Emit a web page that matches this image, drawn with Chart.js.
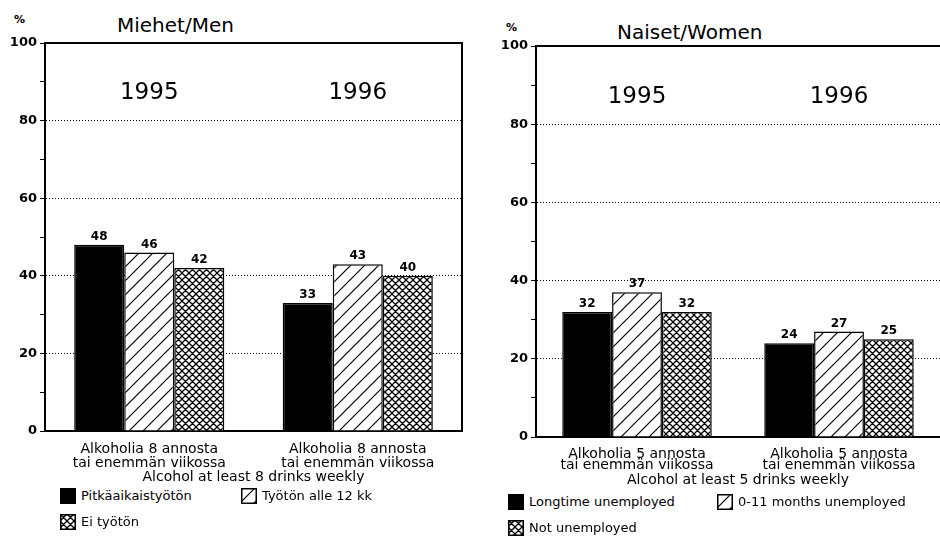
<!DOCTYPE html>
<html>
<head>
<meta charset="utf-8">
<script src="https://cdn.jsdelivr.net/npm/chart.js@4/dist/chart.umd.min.js"></script>
<style>
  body { margin: 0; width: 940px; height: 537px; overflow: hidden; position: relative; background: #fff; color: #000; font-family: "DejaVu Sans", sans-serif; }
  canvas.chart { position: absolute; top: 0; }
  .ttl { position: absolute; font-size: 20px; line-height: 20px; white-space: nowrap; }
  .pct { position: absolute; font-size: 11px; line-height: 11px; font-weight: bold; }
  .legend { position: absolute; display: grid; row-gap: 10px; font-size: 13px; line-height: 16px; }
  .item { display: flex; align-items: center; white-space: nowrap; }
  .item canvas { margin-right: 5px; }
</style>
</head>
<body>
<div class="pct" style="left:14px;top:14px">%</div>
<div class="ttl" style="left:117px;top:15px">Miehet/Men</div>
<div class="pct" style="left:506px;top:22px">%</div>
<div class="ttl" style="left:617px;top:22px">Naiset/Women</div>

<canvas id="men" class="chart" width="470" height="488" style="left:0"></canvas>
<canvas id="women" class="chart" width="470" height="493" style="left:470px"></canvas>

<div id="legendMen" class="legend" style="left:60px;top:488px;grid-template-columns:181px auto"></div>
<div id="legendWomen" class="legend" style="left:508px;top:494px;grid-template-columns:209px auto"></div>

<script>
// data
const years = ['1995', '1996'];
const menCategories = [['Alkoholia 8 annosta', 'tai enemmän viikossa'], ['Alkoholia 8 annosta', 'tai enemmän viikossa']];
const womenCategories = [['Alkoholia 5 annosta', 'tai enemmän viikossa'], ['Alkoholia 5 annosta', 'tai enemmän viikossa']];
const menAxisTitle = 'Alcohol at least 8 drinks weekly';
const womenAxisTitle = 'Alcohol at least 5 drinks weekly';

const menLongtime = [48, 33];
const menShort = [46, 43];
const menNot = [42, 40];
const womenLongtime = [32, 24];
const womenShort = [37, 27];
const womenNot = [32, 25];

const namesFi = ['Pitkäaikaistyötön', 'Työtön alle 12 kk', 'Ei työtön'];
const namesEn = ['Longtime unemployed', '0-11 months unemployed', 'Not unemployed'];

// hatch fills
function makePattern(kind) {
  const s = kind === 'cross' ? 7 : 14;
  const c = document.createElement('canvas');
  c.width = s; c.height = s;
  const g = c.getContext('2d');
  g.fillStyle = '#fff';
  g.fillRect(0, 0, s, s);
  g.strokeStyle = '#000';
  g.lineWidth = kind === 'cross' ? 1.3 : 1.2;
  g.beginPath();
  g.moveTo(-1, s + 1); g.lineTo(s + 1, -1);
  g.moveTo(-1, 1); g.lineTo(1, -1);
  g.moveTo(s - 1, s + 1); g.lineTo(s + 1, s - 1);
  if (kind === 'cross') {
    g.moveTo(-1, -1); g.lineTo(s + 1, s + 1);
    g.moveTo(s - 1, -1); g.lineTo(s + 1, 1);
    g.moveTo(-1, s - 1); g.lineTo(1, s + 1);
  }
  g.stroke();
  return g.createPattern(c, 'repeat');
}
const fills = ['#000', makePattern('slash'), makePattern('cross')];

const FONT = '"DejaVu Sans", sans-serif';

const decorations = {
  id: 'decorations',
  afterDatasetsDraw(chart, args, opts) {
    const { ctx, chartArea: a, scales: { x, y } } = chart;
    ctx.save();
    ctx.fillStyle = '#000';
    ctx.textAlign = 'center';
    ctx.textBaseline = 'bottom';
    ctx.font = 'bold 12px ' + FONT;
    chart.data.datasets.forEach((ds, i) => {
      chart.getDatasetMeta(i).data.forEach((bar, j) => {
        ctx.fillText(ds.data[j], bar.x, bar.y - 2);
      });
    });
    ctx.font = '23px ' + FONT;
    ctx.textBaseline = 'middle';
    years.forEach((yr, j) => {
      ctx.fillText(yr, x.getPixelForValue(j), y.getPixelForValue(opts.yearAt));
    });
    ctx.strokeStyle = '#000';
    ctx.lineWidth = 2;
    ctx.beginPath();
    ctx.moveTo(a.left, a.top);
    ctx.lineTo(a.right, a.top);
    if (opts.rightEdge) ctx.lineTo(a.right, a.bottom);
    ctx.stroke();
    ctx.restore();
  }
};

function buildChart(id, cfg) {
  return new Chart(document.getElementById(id), {
    type: 'bar',
    data: {
      labels: cfg.categories,
      datasets: cfg.series.map((vals, i) => ({
        label: cfg.names[i],
        data: vals,
        backgroundColor: fills[i],
        borderColor: '#000',
        borderWidth: 1.5,
        borderSkipped: 'bottom',
        barPercentage: 1,
        categoryPercentage: cfg.catPct,
      })),
    },
    options: {
      responsive: false,
      animation: false,
      devicePixelRatio: 1,
      layout: { padding: cfg.padding },
      plugins: {
        legend: { display: false },
        tooltip: { enabled: false },
        decorations: { yearAt: 87, rightEdge: cfg.rightEdge },
      },
      scales: {
        x: {
          grid: { display: false },
          border: { color: '#000', width: 2 },
          ticks: { color: '#000', padding: cfg.tickPad, font: { family: FONT, size: 14, lineHeight: cfg.lineH } },
          title: { display: true, text: cfg.axisTitle, color: '#000', padding: 0, font: { family: FONT, size: 14 } },
          afterFit(scale) { scale.height = cfg.xHeight; },
        },
        y: {
          min: 0,
          max: 100,
          ticks: {
            stepSize: 10,
            color: '#000',
            padding: 3,
            font: { family: FONT, size: 13, weight: 'bold' },
            callback: v => (v % 20 === 0 ? v : ''),
          },
          grid: {
            color: c => (c.tick && c.tick.value % 20 === 0 && c.tick.value > 0 && c.tick.value < 100 ? '#000' : 'rgba(0,0,0,0)'),
            tickColor: '#000',
            tickLength: 5,
            tickBorderDash: [],
            lineWidth: 1,
          },
          border: { color: '#000', width: 2, dash: [1, 2] },
          afterFit(scale) { scale.width = cfg.yWidth; },
        },
      },
    },
    plugins: [decorations],
  });
}

buildChart('men', {
  categories: menCategories,
  series: [menLongtime, menShort, menNot],
  names: namesFi,
  axisTitle: menAxisTitle,
  catPct: 0.72,
  padding: { top: 43, right: 8, bottom: 2, left: 0 },
  yWidth: 45,
  xHeight: 55,
  tickPad: 3,
  lineH: 1.0,
  rightEdge: true,
});

buildChart('women', {
  categories: womenCategories,
  series: [womenLongtime, womenShort, womenNot],
  names: namesEn,
  axisTitle: womenAxisTitle,
  catPct: 0.74,
  padding: { top: 46, right: 0, bottom: 4, left: 0 },
  yWidth: 66,
  xHeight: 52,
  tickPad: 4,
  lineH: 0.8,
  rightEdge: false,
});

function buildLegend(id, names) {
  const box = document.getElementById(id);
  names.forEach((name, i) => {
    const item = document.createElement('div');
    item.className = 'item';
    const sw = document.createElement('canvas');
    sw.width = 16; sw.height = 16;
    const g = sw.getContext('2d');
    g.fillStyle = fills[i];
    g.fillRect(0, 0, 16, 16);
    g.strokeStyle = '#000';
    g.lineWidth = 1.5;
    g.strokeRect(0.75, 0.75, 14.5, 14.5);
    item.appendChild(sw);
    const t = document.createElement('span');
    t.textContent = name;
    item.appendChild(t);
    box.appendChild(item);
  });
}
buildLegend('legendMen', namesFi);
buildLegend('legendWomen', namesEn);
</script>
</body>
</html>
